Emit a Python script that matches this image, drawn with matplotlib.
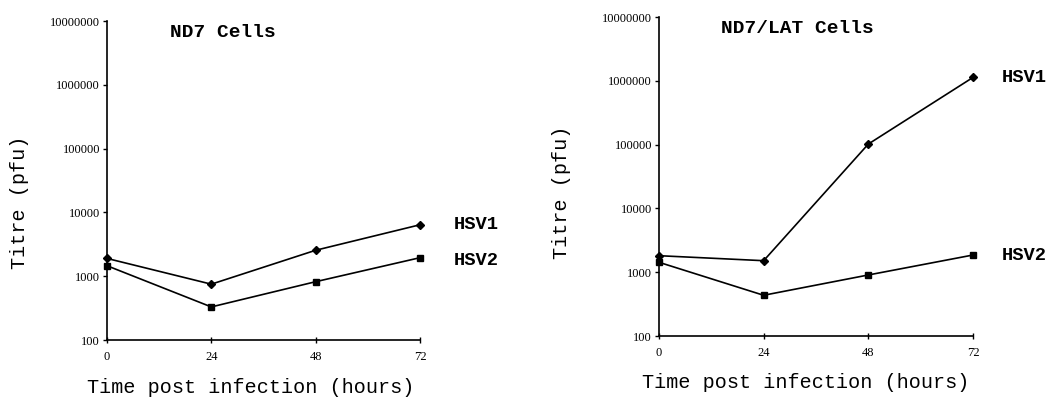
import matplotlib
matplotlib.use('Agg')
import matplotlib.pyplot as plt
from matplotlib.ticker import FixedLocator, FixedFormatter, NullLocator

# hours post infection
hours = [0, 24, 48, 72]

# ND7 cells, titre in pfu
nd7_hsv1 = [1900, 750, 2550, 6400]
nd7_hsv2 = [1460, 330, 820, 1950]

# ND7/LAT cells, titre in pfu
lat_hsv1 = [1815, 1515, 102000, 1130000]
lat_hsv2 = [1430, 435, 905, 1860]

y_ticks = [100, 1000, 10000, 100000, 1000000, 10000000]
y_tick_labels = ['100', '1000', '10000', '100000', '1000000', '10000000']

MONO = 'Liberation Mono'
SERIF = 'Liberation Serif'


def draw_panel(ax, hsv1, hsv2, title, title_pos, xlab_pos, ylab_pos,
               lab_dx, hsv2_dy):
    ax.plot(hours, hsv1, color='black', lw=1.2, marker='D', ms=4,
            clip_on=False, zorder=3)
    ax.plot(hours, hsv2, color='black', lw=1.2, marker='s', ms=4.5,
            clip_on=False, zorder=3)
    ax.set_yscale('log')
    ax.set_ylim(100, 10000000)
    ax.set_xlim(0, 72)
    ax.yaxis.set_major_locator(FixedLocator(y_ticks))
    ax.yaxis.set_major_formatter(FixedFormatter(y_tick_labels))
    ax.yaxis.set_minor_locator(NullLocator())
    ax.set_xticks(hours)
    ax.set_xticklabels([str(h) for h in hours])
    for side in ['top', 'right']:
        ax.spines[side].set_visible(False)
    for side in ['left', 'bottom']:
        ax.spines[side].set_linewidth(1.2)
    ax.tick_params(axis='y', direction='out', length=3, width=1,
                   labelsize=9, pad=2)
    ax.tick_params(axis='x', direction='inout', length=4, width=1,
                   labelsize=9, pad=6)
    for lab in ax.get_xticklabels() + ax.get_yticklabels():
        lab.set_family(SERIF)

    ax.text(ylab_pos[0], ylab_pos[1], 'Titre (pfu)', transform=ax.transAxes,
            family=MONO, fontsize=14.5, rotation=90, ha='center', va='center')
    ax.text(xlab_pos[0], xlab_pos[1], 'Time post infection (hours)',
            transform=ax.transAxes, family=MONO, fontsize=14.5,
            ha='center', va='center')
    ax.text(title_pos[0], title_pos[1], title, transform=ax.transAxes,
            family=MONO, fontsize=14, fontweight='bold',
            ha='center', va='center')
    ax.annotate('HSV1', xy=(hours[-1], hsv1[-1]), xytext=(lab_dx, 0),
                textcoords='offset pixels', family=MONO, fontsize=13.5,
                fontweight='bold', va='center', ha='left',
                annotation_clip=False)
    ax.annotate('HSV2', xy=(hours[-1], hsv2[-1]), xytext=(lab_dx, hsv2_dy),
                textcoords='offset pixels', family=MONO, fontsize=13.5,
                fontweight='bold', va='center', ha='left',
                annotation_clip=False)


fig = plt.figure(figsize=(10.52, 4.04), dpi=100)
ax1 = fig.add_axes([0.1017, 0.1584, 0.2975, 0.7896])
ax2 = fig.add_axes([0.6264, 0.1683, 0.2985, 0.7896])

draw_panel(ax1, nd7_hsv1, nd7_hsv2, 'ND7 Cells', (0.37, 0.963),
           (0.46, -0.150), (-0.278, 0.433), 34, -3)
draw_panel(ax2, lat_hsv1, lat_hsv2, 'ND7/LAT Cells', (0.44, 0.965),
           (0.468, -0.147), (-0.309, 0.451), 29, 0)

fig.savefig('out.png', dpi=100)
